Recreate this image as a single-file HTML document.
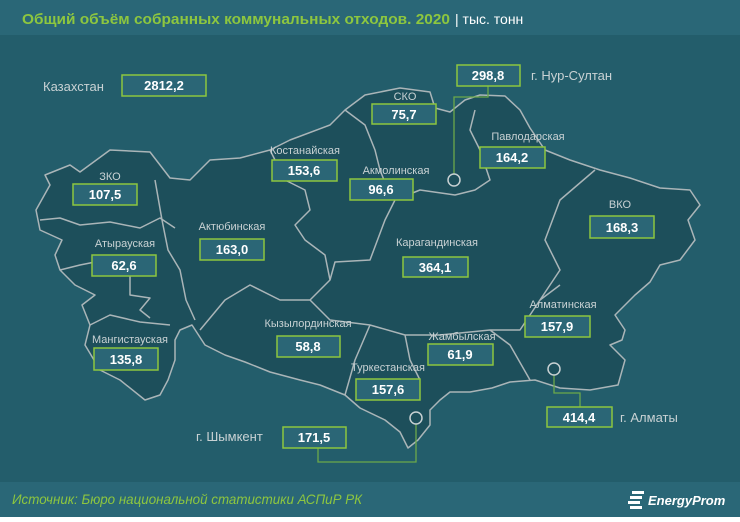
<!DOCTYPE html>
<html><head><meta charset="utf-8"><style>
body{margin:0;width:740px;height:517px;overflow:hidden;background:#fff;font-family:"Liberation Sans",sans-serif}
</style></head><body>
<svg width="740" height="517" xmlns="http://www.w3.org/2000/svg" font-family="Liberation Sans, sans-serif">
<rect x="0" y="0" width="740" height="517" fill="#235d6b"/>
<rect x="0" y="0" width="740" height="35" fill="#2a6777"/>
<rect x="0" y="482" width="740" height="35" fill="#2a6777"/>
<text x="22" y="24" font-size="15" font-weight="bold" fill="#8dc63f" textLength="428" lengthAdjust="spacingAndGlyphs">Общий объём собранных коммунальных отходов. 2020</text>
<text x="455" y="24" font-size="14" fill="#fff">| тыс. тонн</text>
<text x="12" y="504" font-size="14" font-style="italic" fill="#8dc63f" textLength="350" lengthAdjust="spacingAndGlyphs">Источник: Бюро национальной статистики АСПиР РК</text>
<text x="648" y="505" font-size="13" font-style="italic" font-weight="bold" fill="#fff">EnergyProm</text>
<g fill="#fff"><rect x="632" y="491" width="12" height="3"/><rect x="630" y="496" width="12" height="3"/><rect x="628" y="501" width="12" height="3"/><rect x="630" y="506" width="12" height="3"/></g>
<g fill="#1d4f5b" stroke="#aab5b8" stroke-width="1.5" stroke-linejoin="round">
<path d="M36,210 L50,185 L45,175 L70,165 L80,172 L110,150 L150,152 L170,178 L190,180 L210,160 L240,158 L270,150 L290,140 L330,125 L345,110 L365,95 L400,88 L430,92 L435,108 L450,112 L465,100 L480,95 L505,96 L520,110 L530,128 L545,150 L570,160 L600,170 L630,178 L660,188 L690,190 L700,205 L688,220 L695,240 L680,260 L660,265 L650,282 L635,295 L615,315 L625,330 L622,340 L610,345 L625,360 L618,385 L590,390 L560,388 L535,380 L510,382 L492,388 L470,392 L450,392 L440,400 L430,410 L430,425 L418,440 L408,448 L400,432 L385,420 L360,408 L345,395 L320,385 L300,380 L270,372 L245,362 L225,355 L205,345 L192,325 L180,330 L175,340 L175,360 L168,380 L160,395 L145,400 L120,380 L100,370 L85,345 L90,325 L82,305 L95,295 L75,285 L60,270 L55,255 L62,240 L40,230 Z"/>
<path fill="none" d="M40,220 L60,218 L80,225 L110,222 L140,228 L160,218 L175,228 M155,180 L162,220 L168,250 L180,270 L186,300 L195,320 M60,270 L80,265 L95,262 M130,276 L130,295 L150,298 L140,310 L150,318 M90,325 L110,315 L140,322 L170,325 M270,150 L285,180 L305,190 L310,210 L295,225 L305,240 L325,255 L330,280 L310,300 L280,300 L250,285 L225,300 L200,330 M330,280 L335,262 L370,260 L385,220 L395,200 L420,190 L455,195 L475,190 L490,180 L480,150 L470,130 L475,110 M345,110 L365,125 L375,150 L380,170 L390,195 M310,300 L330,320 L370,325 L405,335 L440,335 L490,330 L520,330 L540,300 L560,285 M405,335 L410,360 L420,380 M490,330 L510,345 L530,380 M595,170 L560,200 L545,240 L560,270 L540,300 M370,325 L355,360 L345,395"/>
</g>
<g fill="none" stroke="#6ba84a" stroke-width="1.3">
<path d="M488,86 L488,97 L454,97 L454,174"/>
<path d="M554,375 L554,393 L580,393 L580,407"/>
<path d="M416,424 L416,462 L318,462 L318,448"/>
</g>
<g fill="none" stroke="#c7d0d2" stroke-width="1.5">
<circle cx="454" cy="180" r="6"/><circle cx="554" cy="369" r="6"/><circle cx="416" cy="418" r="6"/>
</g>
<g font-size="11" fill="#c9d2d4" text-anchor="middle">
<text x="405" y="100">СКО</text>
<text x="528" y="140">Павлодарская</text>
<text x="305" y="154">Костанайская</text>
<text x="396" y="174">Акмолинская</text>
<text x="110" y="180">ЗКО</text>
<text x="620" y="208">ВКО</text>
<text x="232" y="230">Актюбинская</text>
<text x="125" y="247">Атырауская</text>
<text x="437" y="246">Карагандинская</text>
<text x="563" y="308">Алматинская</text>
<text x="308" y="327">Кызылординская</text>
<text x="462" y="340">Жамбылская</text>
<text x="130" y="343">Мангистауская</text>
<text x="388" y="371">Туркестанская</text>
</g>
<g font-size="13" fill="#c9d2d4">
<text x="43" y="91">Казахстан</text>
<text x="531" y="80">г. Нур-Султан</text>
<text x="620" y="422">г. Алматы</text>
<text x="196" y="441">г. Шымкент</text>
</g>
<g fill="#2b6676" stroke="#8dc63f" stroke-width="1.5">
<rect x="122" y="75" width="84" height="21"/>
<rect x="457" y="65" width="63" height="21"/>
<rect x="372" y="104" width="64" height="20"/>
<rect x="480" y="147" width="65" height="21"/>
<rect x="272" y="160" width="65" height="21"/>
<rect x="350" y="179" width="63" height="21"/>
<rect x="73" y="184" width="64" height="21"/>
<rect x="590" y="216" width="64" height="22"/>
<rect x="200" y="239" width="64" height="21"/>
<rect x="92" y="255" width="64" height="21"/>
<rect x="403" y="257" width="65" height="20"/>
<rect x="525" y="316" width="65" height="21"/>
<rect x="277" y="336" width="63" height="21"/>
<rect x="428" y="344" width="65" height="21"/>
<rect x="94" y="348" width="64" height="22"/>
<rect x="356" y="379" width="64" height="21"/>
<rect x="547" y="407" width="65" height="20"/>
<rect x="283" y="427" width="63" height="21"/>
</g>
<g font-size="13" font-weight="bold" fill="#fff" text-anchor="middle">
<text x="164" y="90">2812,2</text>
<text x="488" y="80">298,8</text>
<text x="404" y="119">75,7</text>
<text x="512" y="162">164,2</text>
<text x="304" y="175">153,6</text>
<text x="381" y="194">96,6</text>
<text x="105" y="199">107,5</text>
<text x="622" y="232">168,3</text>
<text x="232" y="254">163,0</text>
<text x="124" y="270">62,6</text>
<text x="435" y="272">364,1</text>
<text x="557" y="331">157,9</text>
<text x="308" y="351">58,8</text>
<text x="460" y="359">61,9</text>
<text x="126" y="364">135,8</text>
<text x="388" y="394">157,6</text>
<text x="579" y="422">414,4</text>
<text x="314" y="442">171,5</text>
</g>
</svg>
</body></html>
